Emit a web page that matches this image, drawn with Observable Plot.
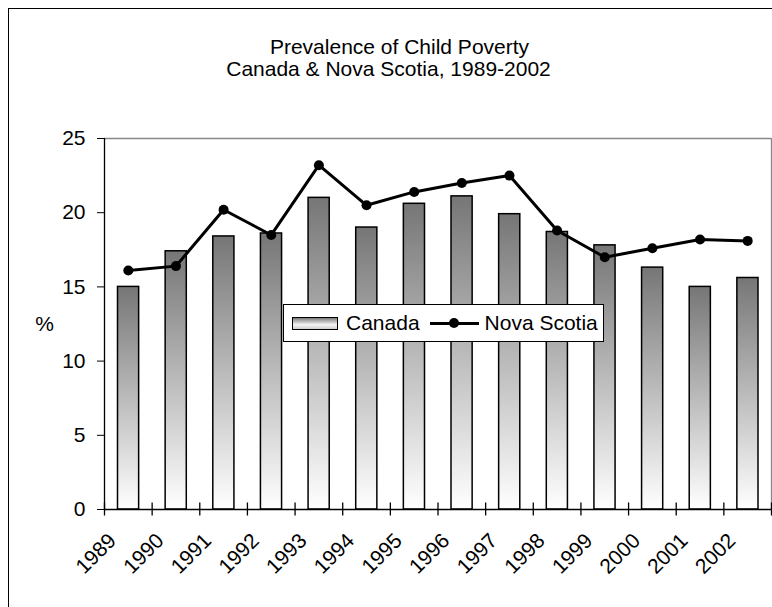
<!DOCTYPE html>
<html>
<head>
<meta charset="utf-8">
<script src="https://cdn.jsdelivr.net/npm/d3@7"></script>
<script src="https://cdn.jsdelivr.net/npm/@observablehq/plot@0.6"></script>
<style>
  body { margin: 0; background: #fff; font-family: "Liberation Sans", Arial, sans-serif; }
  #wrap { position: relative; width: 772px; height: 607px; overflow: hidden; background: #fff; }
  #wrap svg { position: absolute; left: 0; top: 0; }
  #outer { position: absolute; left: 8px; top: 8px; width: 900px; height: 900px; border: 1px solid #000; pointer-events: none; }
  #legend { position: absolute; left: 283px; top: 304px; width: 321px; height: 38px; box-sizing: border-box;
            border: 1px solid #000; background: #fff; display: flex; align-items: center; padding-left: 8px;
            font-size: 21px; color: #000; }
  #legend .sw { width: 46px; height: 13px; box-sizing: border-box; border: 1px solid #000;
                background: linear-gradient(#7a7a7a, #f4f4f4 60%, #cfcfcf); margin-right: 8px; }
  #legend .ln { position: relative; width: 49px; height: 3px; background: #000; margin: 0 6px 0 10px; }
  #legend .ln i { position: absolute; left: 50%; top: 50%; width: 10px; height: 10px; border-radius: 50%;
                  background: #000; transform: translate(-50%, -50%); }
</style>
</head>
<body>
<div id="wrap"></div>
<script>
// ---- data ----
const years = [1989, 1990, 1991, 1992, 1993, 1994, 1995, 1996, 1997, 1998, 1999, 2000, 2001, 2002];
const canada = [15.0, 17.4, 18.4, 18.6, 21.0, 19.0, 20.6, 21.1, 19.9, 18.7, 17.8, 16.3, 15.0, 15.6];
const novaScotia = [16.1, 16.4, 20.2, 18.5, 23.2, 20.5, 21.4, 22.0, 22.5, 18.8, 17.0, 17.6, 18.2, 18.1];
const yTicks = [0, 5, 10, 15, 20, 25];
const seriesNames = ["Canada", "Nova Scotia"];
const titleText = "Prevalence of Child Poverty";
const subtitleText = "Canada & Nova Scotia, 1989-2002";
const yLabel = "%";

// ---- derived ----
const rows = years.map((y, i) => ({year: y, canada: canada[i], ns: novaScotia[i]}));
const edges = [...years, years[years.length - 1] + 1];
const font = '"Liberation Sans", Arial, sans-serif';

const chart = Plot.plot({
  width: 772,
  height: 607,
  marginTop: 138,
  marginBottom: 98,
  marginLeft: 104,
  marginRight: 1,
  style: {fontFamily: font, fontSize: "21px", color: "#000", background: "transparent", overflow: "visible"},
  x: {domain: [edges[0], edges[edges.length - 1]], axis: null},
  y: {domain: [yTicks[0], yTicks[yTicks.length - 1]], axis: null, label: null},
  marks: [
    Plot.ruleY([yTicks[yTicks.length - 1]], {stroke: "#888", strokeWidth: 1.3}),
    Plot.ruleX([edges[edges.length - 1]], {stroke: "#888", strokeWidth: 1.3}),
    Plot.rect(rows, {
      x1: "year", x2: d => d.year + 1, y1: () => 0, y2: "canada",
      insetLeft: 13.5, insetRight: 13,
      fill: "url(#barGrad)", stroke: "#000", strokeWidth: 1.5
    }),
    Plot.ruleY([0], {stroke: "#000", strokeWidth: 1.3}),
    Plot.ruleX([edges[0]], {stroke: "#000", strokeWidth: 1.3}),
    Plot.axisY({ticks: yTicks, tickSize: 7, tickPadding: 12, label: null, fontSize: 21, stroke: "#000"}),
    Plot.ruleX(edges, {x: d => d, y1: () => 0, y2: () => 0, insetTop: -6.5, insetBottom: -6.5, stroke: "#000", strokeWidth: 1.3}),
    Plot.line(rows, {x: d => d.year + 0.5, y: "ns", stroke: "#000", strokeWidth: 3}),
    Plot.dot(rows, {x: d => d.year + 0.5, y: "ns", r: 5, fill: "#000", stroke: null}),
    Plot.text(years, {
      x: d => d + 0.5, y: () => 0, text: d => String(d),
      rotate: -45, textAnchor: "end", lineAnchor: "bottom", dx: -11, dy: 32.5, fontSize: 21, fill: "#000"
    }),
    Plot.text([yLabel], {frameAnchor: "left", text: d => d, dx: -60, textAnchor: "middle", fontSize: 21, fill: "#000"}),
    Plot.text([titleText], {frameAnchor: "top", text: d => d, dx: -38.5, dy: -85, lineAnchor: "bottom", textAnchor: "middle", fontSize: 21, fill: "#000"}),
    Plot.text([subtitleText], {frameAnchor: "top", text: d => d, dx: -49.5, dy: -63, lineAnchor: "bottom", textAnchor: "middle", fontSize: 21, fill: "#000"})
  ]
});

// gradient definition used by bars
const defs = d3.select(chart).insert("defs", ":first-child");
const grad = defs.append("linearGradient").attr("id", "barGrad")
  .attr("x1", 0).attr("y1", 0).attr("x2", 0).attr("y2", 1);
grad.append("stop").attr("offset", "0%").attr("stop-color", "#767676");
grad.append("stop").attr("offset", "100%").attr("stop-color", "#ffffff");

const wrap = document.getElementById("wrap");
wrap.appendChild(chart);

const outer = document.createElement("div");
outer.id = "outer";
wrap.appendChild(outer);

// legend
const legend = document.createElement("div");
legend.id = "legend";
legend.innerHTML = `<span class="sw"></span><span>${seriesNames[0]}</span><span class="ln"><i></i></span><span>${seriesNames[1]}</span>`;
wrap.appendChild(legend);
</script>
</body>
</html>
